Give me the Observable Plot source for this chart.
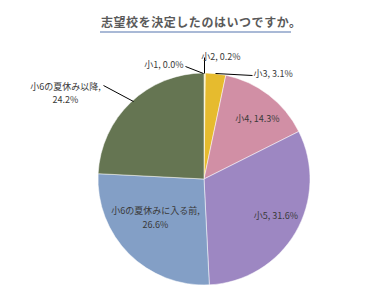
<!DOCTYPE html>
<html><head><meta charset="utf-8">
<script src="https://cdn.jsdelivr.net/npm/d3@7"></script>
<script src="https://cdn.jsdelivr.net/npm/@observablehq/plot@0.6"></script>
<style>
body{margin:0;background:#fff;}
#wrap{width:371px;height:296px;position:relative;overflow:hidden;}
#title{position:absolute;left:0;top:0;width:371px;height:40px;}
#title span{position:absolute;left:101px;top:13px;font:bold 12px "Noto Sans CJK JP",sans-serif;color:#5a5a5a;letter-spacing:0.55px;white-space:nowrap;}
#title i{position:absolute;left:100px;top:31px;width:191px;height:2px;background:#A9B9D6;}
#chart{position:absolute;left:0;top:40px;}
</style></head>
<body><div id="wrap"><div id="title"><span>志望校を決定したのはいつですか。</span><i></i></div><div id="chart"></div></div>
<script>
const categories = ["小1","小2","小3","小4","小5","小6の夏休みに入る前","小6の夏休み以降"];
const values = [0.0,0.2,3.1,14.3,31.6,26.6,24.2];
const colors = ["#F5E39A","#F3DF86","#E6BB2E","#D18FA5","#9D87C2","#839FC6","#657552"];
const labelTexts = ["小1, 0.0%","小2, 0.2%","小3, 3.1%","小4, 14.3%","小5, 31.6%","小6の夏休みに入る前,\n26.6%","小6の夏休み以降,\n24.2%"];

// layout (pixel offsets from pie centre, radius 106)
const R = 106, CX = 204, CY = 139;
const labelPos = [[183,63,"end"],[220.5,55,"middle"],[253,72,"start"],[257,117,"middle"],[275.5,214,"middle"],[155,216,"middle"],[65,91.5,"middle"]];
const leaders = [[185,66,203,73],[204,57,204,73],[215,73,252,75],[103,85,133,101]];
const toX = px => (px - CX) / R, toY = py => (CY + 40 - py) / R;

const data = categories.map((c,i)=>({cat:c,value:values[i],color:colors[i],label:labelTexts[i],
  lx:toX(labelPos[i][0]),ly:toY(labelPos[i][1]),anchor:labelPos[i][2]}));
const arcs = d3.pie().sort(null).value(d=>d.value)(data);
const lines = leaders.map(([a,b,c,d])=>({x1:toX(a),y1:toY(b),x2:toX(c),y2:toY(d)}));

const pieMark = (index, scales) => {
  const x = scales.x, y = scales.y;
  const cx = x(0), cy = y(0), r = x(1) - x(0);
  const arc = d3.arc().innerRadius(0).outerRadius(r);
  const g = d3.create("svg:g").attr("transform",`translate(${cx},${cy})`);
  g.selectAll("path").data(arcs.filter(a=>a.data.value>0)).join("path")
    .attr("d",arc).attr("fill",a=>a.data.color).attr("stroke","#fff").attr("stroke-width",0.5);
  return g.node();
};

const mk = (anchor) => Plot.text(data.filter(d=>d.anchor===anchor),{x:"lx",y:"ly",text:"label",textAnchor:anchor,
  fontSize:9,fill:"#3a3a3a",lineHeight:1.55,fontFamily:"'Noto Sans CJK JP', sans-serif"});

const chart = Plot.plot({
  width:371,height:256,
  marginLeft:98,marginRight:61,marginTop:33,marginBottom:11,
  x:{domain:[-1,1],axis:null},y:{domain:[-1,1],axis:null},
  style:{background:"transparent",overflow:"visible"},
  marks:[
    pieMark,
    Plot.link(lines,{x1:"x1",y1:"y1",x2:"x2",y2:"y2",stroke:"#000",strokeWidth:1}),
    mk("start"),mk("middle"),mk("end")
  ]
});
document.getElementById("chart").append(chart);
</script></body></html>
